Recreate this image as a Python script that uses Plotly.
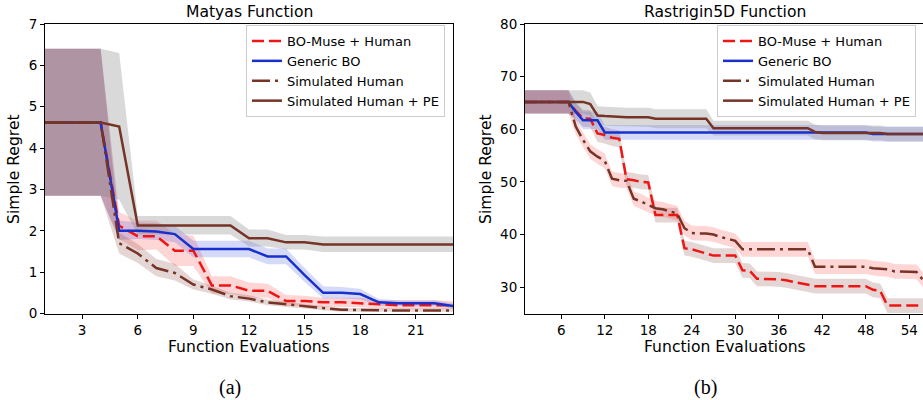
import plotly.graph_objects as go

# ---------------- data: Matyas (x = 1..23) ----------------
m_x = list(range(1, 24))
m_muse = [4.62,4.62,4.62,4.62,2.12,1.87,1.87,1.52,1.52,0.68,0.68,0.55,0.55,0.30,0.30,0.27,0.27,0.25,0.22,0.20,0.20,0.20,0.20]
m_muse_hi = [6.4,6.4,6.4,6.4,2.45,2.25,2.25,1.92,1.88,0.90,0.90,0.75,0.72,0.45,0.43,0.38,0.38,0.38,0.32,0.32,0.32,0.32,0.30]
m_muse_lo = [2.85,2.85,2.85,2.85,1.80,1.53,1.55,1.15,1.15,0.48,0.48,0.38,0.38,0.18,0.18,0.16,0.16,0.16,0.12,0.12,0.12,0.12,0.12]
m_gbo = [4.62,4.62,4.62,4.62,2.00,2.00,1.98,1.92,1.56,1.56,1.56,1.56,1.38,1.38,0.93,0.50,0.50,0.47,0.27,0.25,0.25,0.25,0.18]
m_gbo_hi = [6.4,6.4,6.4,6.4,2.25,2.20,2.18,2.12,1.76,1.76,1.76,1.76,1.57,1.57,1.10,0.66,0.64,0.60,0.35,0.32,0.32,0.32,0.25]
m_gbo_lo = [2.85,2.85,2.85,2.85,1.78,1.80,1.78,1.72,1.36,1.36,1.36,1.36,1.19,1.19,0.76,0.36,0.36,0.34,0.19,0.18,0.18,0.18,0.12]
m_sim = [4.62,4.62,4.62,4.62,1.70,1.45,1.10,0.98,0.70,0.58,0.42,0.36,0.27,0.22,0.18,0.13,0.09,0.08,0.08,0.07,0.07,0.07,0.07]
m_sim_hi = [6.4,6.4,6.4,6.4,1.95,1.68,1.32,1.20,0.82,0.68,0.50,0.44,0.34,0.28,0.23,0.18,0.13,0.13,0.13,0.13,0.13,0.13,0.13]
m_sim_lo = [2.85,2.85,2.85,2.85,1.45,1.22,0.90,0.80,0.58,0.48,0.34,0.29,0.20,0.16,0.12,0.08,0.04,0.04,0.04,0.04,0.04,0.04,0.04]
m_pe = [4.62,4.62,4.62,4.62,4.52,2.13,2.13,2.13,2.13,2.13,2.13,1.82,1.82,1.72,1.72,1.67,1.67,1.67,1.67,1.67,1.67,1.67,1.67]
m_pe_hi = [6.4,6.4,6.4,6.4,6.3,2.36,2.36,2.36,2.36,2.36,2.36,2.03,2.03,1.90,1.90,1.86,1.86,1.86,1.86,1.86,1.86,1.86,1.86]
m_pe_lo = [2.85,2.85,2.85,2.85,2.75,1.91,1.91,1.91,1.91,1.91,1.91,1.62,1.62,1.55,1.55,1.49,1.49,1.49,1.49,1.49,1.49,1.49,1.49]

# ---------------- data: Rastrigin5D (x = 1..56) ----------------
r_x = list(range(1, 57))
r_muse = [65.2]*7 + [63.5,62.1,62.0,59.2,58.9,58.4,58.2,50.5,50.3,50.0,49.9,43.7,43.7,43.7,43.7,
          37.4,37.2,36.8,36.4,36.0,36.0,36.0,36.0,33.2,33.1,31.6,31.6,31.6,31.5,31.3,31.0,30.8,30.5,
          30.2,30.2,30.2,30.2,30.2,30.2,30.2,30.2,29.5,29.3,26.5,26.5,26.5,26.5,26.5,26.5]
r_muse_band = [2.2]*7 + [1.6]*7 + [1.4]*42
r_gbo = [65.2]*7 + [63.3,61.7,61.7,61.7] + [59.4]*37 + [59.1]*8
r_gbo_band = [2.2]*7 + [1.7]*4 + [1.4]*45
r_sim = [65.2]*7 + [60.5,58.0,55.8,54.8,54.0,50.6,50.3,50.2,46.8,46.3,45.6,45.0,44.8,44.4,44.0,
         41.2,40.3,40.2,40.2,40.0,39.5,39.2,38.8,37.2,37.2,37.2,37.2,37.2,37.2,37.2,37.2,37.2,37.2,
         33.9,33.9,33.9,33.9,33.9,33.9,33.9,33.9,33.6,33.5,33.4,33.0,33.0,33.0,32.9,31.2]
r_sim_band = [2.2]*7 + [1.4]*49
r_pe = [65.2]*9 + [64.8,62.6,62.5,62.4,62.3,62.3,62.3,62.3,62.3] + [62.0]*8 + [60.2]*14 + [59.5] + [59.3]*9 + [59.1]*6
r_pe_band = [2.2]*10 + [1.8]*16 + [1.4]*30

m_xticks = [3, 6, 9, 12, 15, 18, 21]
m_yticks = [0, 1, 2, 3, 4, 5, 6, 7]
r_xticks = [6, 12, 18, 24, 30, 36, 42, 48, 54]
r_yticks = [30, 40, 50, 60, 70, 80]

names = ["BO-Muse + Human", "Generic BO", "Simulated Human", "Simulated Human + PE"]

# ---------------- styling ----------------
W, H = 923, 400
FONT = "DejaVu Sans"
RED = "#f01515"
BLUE = "#1830cc"
BROWN = "#753426"
F_RED = "rgba(255,0,0,0.16)"
F_BLUE = "rgba(30,50,220,0.18)"
F_BROWN = "rgba(120,50,40,0.2)"
F_GRAY = "rgba(128,128,128,0.3)"
DASH = "12px,5px"
DASHDOT = "18px,5px,3px,5px"
LBL = 15.6

fig = go.Figure()


def band(x, lo, hi, color, xa, ya):
    fig.add_trace(go.Scatter(x=list(x) + list(x)[::-1], y=list(hi) + list(lo)[::-1],
                             fill="toself", fillcolor=color, line=dict(width=0),
                             mode="lines", hoverinfo="skip", showlegend=False,
                             xaxis=xa, yaxis=ya))


def line(x, y, color, dash, name, leg, xa, ya):
    fig.add_trace(go.Scatter(x=x, y=y, mode="lines", name=name,
                             line=dict(color=color, width=2.5, dash=dash),
                             legend=leg, showlegend=True, xaxis=xa, yaxis=ya))


# Matyas bands
band(m_x, m_muse_lo, m_muse_hi, F_RED, "x", "y")
band(m_x, m_gbo_lo, m_gbo_hi, F_BLUE, "x", "y")
band(m_x, m_sim_lo, m_sim_hi, F_BROWN, "x", "y")
band(m_x, m_pe_lo, m_pe_hi, F_GRAY, "x", "y")
# Rastrigin bands
band(r_x, [a - b for a, b in zip(r_muse, r_muse_band)], [a + b for a, b in zip(r_muse, r_muse_band)], F_BROWN, "x2", "y2")
band(r_x, [a - b for a, b in zip(r_gbo, r_gbo_band)], [a + b for a, b in zip(r_gbo, r_gbo_band)], F_BLUE, "x2", "y2")
band(r_x, [a - b for a, b in zip(r_sim, r_sim_band)], [a + b for a, b in zip(r_sim, r_sim_band)], F_RED, "x2", "y2")
band(r_x, [a - b for a, b in zip(r_pe, r_pe_band)], [a + b for a, b in zip(r_pe, r_pe_band)], F_GRAY, "x2", "y2")

# lines
line(m_x, m_muse, RED, DASH, names[0], "legend", "x", "y")
line(m_x, m_gbo, BLUE, "solid", names[1], "legend", "x", "y")
line(m_x, m_sim, BROWN, DASHDOT, names[2], "legend", "x", "y")
line(m_x, m_pe, BROWN, "solid", names[3], "legend", "x", "y")
line(r_x, r_muse, RED, DASH, names[0], "legend2", "x2", "y2")
line(r_x, r_gbo, BLUE, "solid", names[1], "legend2", "x2", "y2")
line(r_x, r_sim, BROWN, DASHDOT, names[2], "legend2", "x2", "y2")
line(r_x, r_pe, BROWN, "solid", names[3], "legend2", "x2", "y2")

ax_common = dict(showgrid=False, zeroline=False, showline=True, linecolor="black", linewidth=1,
                 ticks="outside", ticklen=4, tickwidth=1, tickcolor="black", automargin=False,
                 tickfont=dict(family=FONT, size=13.5, color="black"))

y0 = 1 - 313.5 / H
y1 = 1 - 24 / H
fig.update_layout(
    template="none",
    width=W, height=H, margin=dict(l=0, r=0, t=0, b=0, pad=0), autosize=False,
    paper_bgcolor="white", plot_bgcolor="white",
    font=dict(family=FONT, color="black"),
    xaxis=dict(domain=[45 / W, 453 / W], range=[1, 23], tickvals=m_xticks, mirror=True, anchor="y", **ax_common),
    yaxis=dict(domain=[y0, y1], range=[0, 7], tickvals=m_yticks, mirror=True, anchor="x", **ax_common),
    xaxis2=dict(domain=[525 / W, 1.0], range=[1, 55.9], tickvals=r_xticks, mirror=True, anchor="y2", **ax_common),
    yaxis2=dict(domain=[y0, y1], range=[25, 80], tickvals=r_yticks, mirror=False, anchor="x2", **ax_common),
    legend=dict(x=246 / W, y=1 - 25 / H, xanchor="left", yanchor="top",
                bgcolor="rgba(255,255,255,0.85)", bordercolor="#cccccc", borderwidth=1,
                font=dict(family=FONT, size=13, color="black"), tracegroupgap=0),
    legend2=dict(x=717 / W, y=1 - 25 / H, xanchor="left", yanchor="top",
                 bgcolor="rgba(255,255,255,0.85)", bordercolor="#cccccc", borderwidth=1,
                 font=dict(family=FONT, size=13, color="black"), tracegroupgap=0),
    showlegend=True,
)

ann = []


def text(t, cx, cy, size, family=FONT, angle=0):
    ann.append(dict(text=t, x=cx / W, y=1 - cy / H, xref="paper", yref="paper",
                    xanchor="center", yanchor="middle", textangle=angle, showarrow=False,
                    font=dict(family=family, size=size, color="black")))


text("Matyas Function", 249, 12, LBL)
text("Rastrigin5D Function", 725, 12, LBL)
for cx in (249, 725):
    text("Function Evaluations", cx, 347, LBL)
for cx in (14, 486):
    text("Simple Regret", cx, 169, LBL, angle=-90)
text("(a)", 230, 387, 20, family="Liberation Serif")
text("(b)", 705, 387, 20, family="Liberation Serif")
fig.update_layout(annotations=ann)

fig.write_html("out.html", config={"displayModeBar": False},
               post_script="document.body.style.margin='0';document.body.style.overflow='hidden';")
